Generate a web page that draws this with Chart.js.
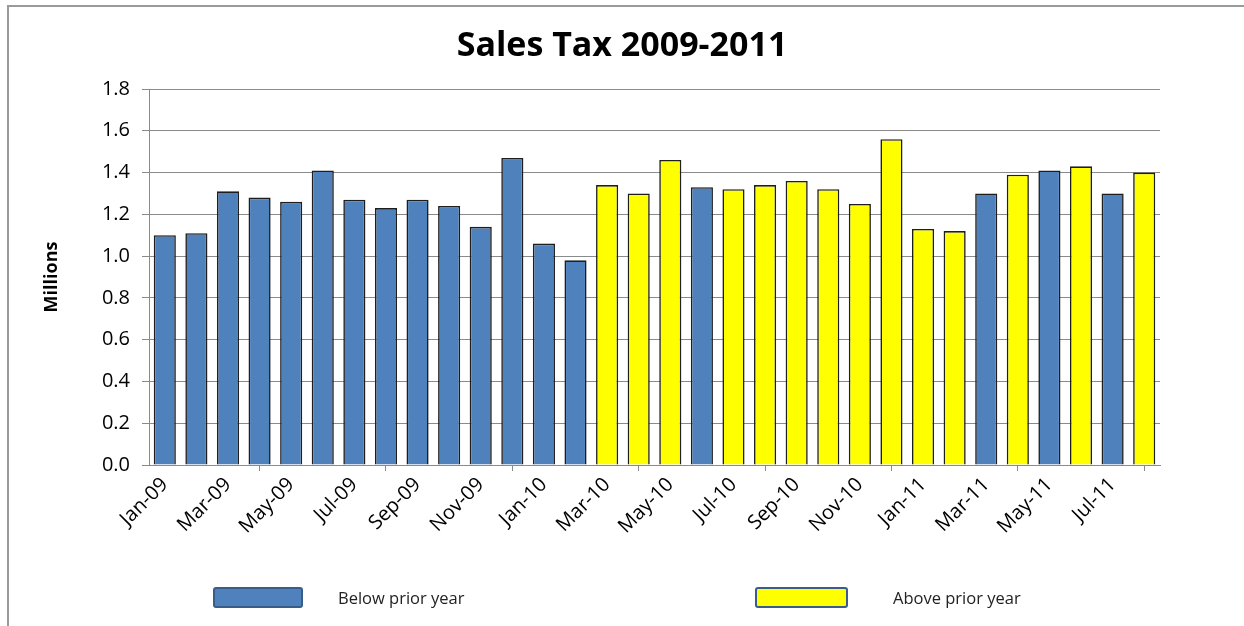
<!DOCTYPE html>
<html>
<head>
<meta charset="utf-8">
<title>Sales Tax 2009-2011</title>
<script src="https://cdn.jsdelivr.net/npm/chart.js@4.4.0/dist/chart.umd.min.js"></script>
<style>
  html, body { margin: 0; padding: 0; background: #fff; }
  body { width: 1244px; height: 626px; overflow: hidden; position: relative; font-family: "Open Sans", sans-serif; }
  #frame { position: absolute; left: 7px; top: 5px; width: 1240px; height: 660px; border: 2px solid #9a9a9a; box-sizing: border-box; }
  #wrap { position: absolute; left: 0; top: 0; width: 1244px; height: 626px; }
  #legend .item { position: absolute; top: 586px; display: flex; align-items: center; }
  #legend .item:nth-child(1) { left: 213px; }
  #legend .item:nth-child(2) { left: 755px; }
  #legend .box { width: 90px; height: 21px; box-sizing: border-box; border: 2.5px solid #385d8a; border-radius: 3px; margin-right: 35px; }
  #legend .item:nth-child(2) .box { width: 93px; margin-right: 45px; }
  #legend .label { font-size: 16.5px; color: #222; }
</style>
</head>
<body>
<div id="frame"></div>
<div id="wrap"><canvas id="chart"></canvas></div>
<div id="legend"></div>
<script>
const chartTitle = 'Sales Tax 2009-2011';
const months = ['Jan-09', 'Feb-09', 'Mar-09', 'Apr-09', 'May-09', 'Jun-09', 'Jul-09', 'Aug-09', 'Sep-09', 'Oct-09', 'Nov-09', 'Dec-09',
    'Jan-10', 'Feb-10', 'Mar-10', 'Apr-10', 'May-10', 'Jun-10', 'Jul-10', 'Aug-10', 'Sep-10', 'Oct-10', 'Nov-10', 'Dec-10',
    'Jan-11', 'Feb-11', 'Mar-11', 'Apr-11', 'May-11', 'Jun-11', 'Jul-11', 'Aug-11'];
// millions
const salesTax = [1.10, 1.11, 1.31, 1.28, 1.26, 1.41, 1.27, 1.23, 1.27, 1.24, 1.14, 1.47,
    1.06, 0.98, 1.34, 1.30, 1.46, 1.33, 1.32, 1.34, 1.36, 1.32, 1.25, 1.56,
    1.13, 1.12, 1.30, 1.39, 1.41, 1.43, 1.30, 1.40];
const abovePrior = [false, false, false, false, false, false, false, false, false, false, false, false,
    false, false, true, true, true, false, true, true, true, true, true, true,
    true, true, false, true, false, true, false, true];
const seriesNames = ['Below prior year', 'Above prior year'];
const seriesColors = ['#4f81bd', '#ffff00'];
const yMin = 0, yMax = 1.8, yStep = 0.2;

const font = "'Open Sans', sans-serif";
const gridColor = '#8a8a8a';

var below = salesTax.map((v, i) => abovePrior[i] ? null : v);
var above = salesTax.map((v, i) => abovePrior[i] ? v : null);

var data = {
    labels: months,
    datasets: [below, above].map((values, i) => ({
        label: seriesNames[i],
        data: values,
        backgroundColor: seriesColors[i],
        borderColor: '#1e1e1e',
        borderWidth: 1.6,
        borderSkipped: 'bottom',
        barPercentage: 0.7,
        categoryPercentage: 1
    }))
};

var options = {
    responsive: true,
    maintainAspectRatio: false,
    animation: false,
    layout: { padding: { left: 0, right: 0, top: 0, bottom: 49 } },
    plugins: {
        legend: { display: false },
        tooltip: { enabled: false },
        title: {
            display: true,
            text: chartTitle,
            color: '#000',
            font: { family: font, size: 34, weight: 'bold' },
            padding: { top: 26, bottom: 22.2 }
        }
    },
    scales: {
        x: {
            stacked: true,
            grid: { display: true, drawOnChartArea: false, tickLength: 6, color: gridColor, offset: true },
            border: { color: gridColor },
            ticks: {
                autoSkip: true,
                maxTicksLimit: 16,
                minRotation: 45,
                maxRotation: 45,
                padding: 2,
                color: '#000',
                font: { family: font, size: 20 }
            },
            afterFit: function (scale) { scale.height = 112; }
        },
        y: {
            stacked: true,
            min: yMin,
            max: yMax,
            ticks: {
                stepSize: yStep,
                padding: 12,
                color: '#000',
                font: { family: font, size: 20 },
                callback: function (value) { return value.toFixed(1); }
            },
            grid: { color: gridColor, tickLength: 7 },
            border: { color: gridColor },
            title: {
                display: true,
                text: 'Millions',
                color: '#000',
                font: { family: font, size: 18, weight: 'bold' },
                padding: { top: 41, bottom: 0 }
            },
            afterFit: function (scale) { scale.width = 149; }
        },
        // empty space on the right, keeps the title centred on the page
        spacer: {
            position: 'right',
            grid: { display: false },
            border: { display: false },
            ticks: { display: false },
            afterFit: function (scale) { scale.width = 84; }
        }
    }
};

const chart = new Chart('chart', { type: 'bar', data: data, options: options });

// html legend, same look as the excel one
const legendEl = document.getElementById('legend');
chart.data.datasets.forEach(ds => {
    const item = document.createElement('div');
    item.className = 'item';
    const box = document.createElement('span');
    box.className = 'box';
    box.style.background = ds.backgroundColor;
    const label = document.createElement('span');
    label.className = 'label';
    label.textContent = ds.label;
    item.appendChild(box);
    item.appendChild(label);
    legendEl.appendChild(item);
});
</script>
</body>
</html>
